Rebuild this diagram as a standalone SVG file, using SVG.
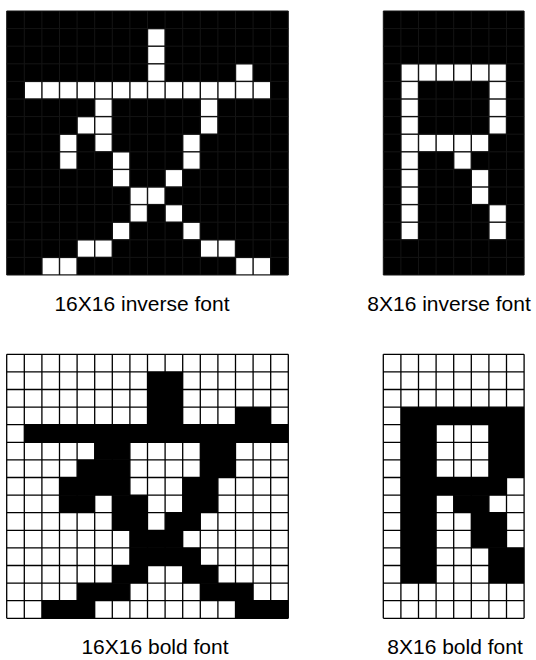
<svg xmlns="http://www.w3.org/2000/svg" width="536" height="660" viewBox="0 0 536 660">
<style>
.bg{fill:#fff}
.inv{fill:#000}
.w{fill:#fff}
.b{fill:#000}
.grid{fill:none;stroke:#000;stroke-width:1.3}
.invgrid{fill:none;stroke:#141414;stroke-width:1}
.lbl{font-family:"Liberation Sans",Arial,sans-serif;font-size:21px;fill:#000;text-anchor:middle}
</style>
<rect class="bg" x="0" y="0" width="536" height="660"/>
<defs>
<rect id="c" class="w" width="16.2" height="16.2"/>
<path id="g16" d="M0 0V264M17.6 0V264M35.2 0V264M52.8 0V264M70.4 0V264M88 0V264M105.6 0V264M123.2 0V264M140.8 0V264M158.4 0V264M176 0V264M193.6 0V264M211.2 0V264M228.8 0V264M246.4 0V264M264 0V264M281.6 0V264M0 0H281.6M0 17.6H281.6M0 35.2H281.6M0 52.8H281.6M0 70.4H281.6M0 88H281.6M0 105.6H281.6M0 123.2H281.6M0 140.8H281.6M0 158.4H281.6M0 176H281.6M0 193.6H281.6M0 211.2H281.6M0 228.8H281.6M0 246.4H281.6M0 264H281.6"/>
<path id="g8" d="M0 0V264M17.6 0V264M35.2 0V264M52.8 0V264M70.4 0V264M88 0V264M105.6 0V264M123.2 0V264M140.8 0V264M0 0H140.8M0 17.6H140.8M0 35.2H140.8M0 52.8H140.8M0 70.4H140.8M0 88H140.8M0 105.6H140.8M0 123.2H140.8M0 140.8H140.8M0 158.4H140.8M0 176H140.8M0 193.6H140.8M0 211.2H140.8M0 228.8H140.8M0 246.4H140.8M0 264H140.8"/>
</defs>

<g id="inverse16" transform="translate(6.7,11)">
<rect class="inv" width="281.6" height="264"/>
<use href="#g16" class="invgrid"/>
<g transform="translate(0.7,0.7)">
<use href="#c" x="140.8" y="17.6"/>
<use href="#c" x="140.8" y="35.2"/>
<use href="#c" x="140.8" y="52.8"/><use href="#c" x="228.8" y="52.8"/>
<use href="#c" x="17.6" y="70.4"/><use href="#c" x="35.2" y="70.4"/><use href="#c" x="52.8" y="70.4"/><use href="#c" x="70.4" y="70.4"/><use href="#c" x="88" y="70.4"/><use href="#c" x="105.6" y="70.4"/><use href="#c" x="123.2" y="70.4"/><use href="#c" x="140.8" y="70.4"/><use href="#c" x="158.4" y="70.4"/><use href="#c" x="176" y="70.4"/><use href="#c" x="193.6" y="70.4"/><use href="#c" x="211.2" y="70.4"/><use href="#c" x="228.8" y="70.4"/><use href="#c" x="246.4" y="70.4"/>
<use href="#c" x="88" y="88"/><use href="#c" x="193.6" y="88"/>
<use href="#c" x="70.4" y="105.6"/><use href="#c" x="88" y="105.6"/><use href="#c" x="193.6" y="105.6"/>
<use href="#c" x="52.8" y="123.2"/><use href="#c" x="88" y="123.2"/><use href="#c" x="176" y="123.2"/>
<use href="#c" x="52.8" y="140.8"/><use href="#c" x="105.6" y="140.8"/><use href="#c" x="176" y="140.8"/>
<use href="#c" x="105.6" y="158.4"/><use href="#c" x="158.4" y="158.4"/>
<use href="#c" x="123.2" y="176"/><use href="#c" x="140.8" y="176"/>
<use href="#c" x="123.2" y="193.6"/><use href="#c" x="158.4" y="193.6"/>
<use href="#c" x="105.6" y="211.2"/><use href="#c" x="176" y="211.2"/>
<use href="#c" x="70.4" y="228.8"/><use href="#c" x="88" y="228.8"/><use href="#c" x="193.6" y="228.8"/><use href="#c" x="211.2" y="228.8"/>
<use href="#c" x="35.2" y="246.4"/><use href="#c" x="52.8" y="246.4"/><use href="#c" x="228.8" y="246.4"/><use href="#c" x="246.4" y="246.4"/>
</g>
</g>

<g id="inverse8" transform="translate(383.3,11)">
<rect class="inv" width="140.8" height="264"/>
<use href="#g8" class="invgrid"/>
<g transform="translate(0.7,0.7)">
<use href="#c" x="17.6" y="52.8"/><use href="#c" x="35.2" y="52.8"/><use href="#c" x="52.8" y="52.8"/><use href="#c" x="70.4" y="52.8"/><use href="#c" x="88" y="52.8"/><use href="#c" x="105.6" y="52.8"/>
<use href="#c" x="17.6" y="70.4"/><use href="#c" x="105.6" y="70.4"/>
<use href="#c" x="17.6" y="88"/><use href="#c" x="105.6" y="88"/>
<use href="#c" x="17.6" y="105.6"/><use href="#c" x="105.6" y="105.6"/>
<use href="#c" x="17.6" y="123.2"/><use href="#c" x="35.2" y="123.2"/><use href="#c" x="52.8" y="123.2"/><use href="#c" x="70.4" y="123.2"/><use href="#c" x="88" y="123.2"/>
<use href="#c" x="17.6" y="140.8"/><use href="#c" x="70.4" y="140.8"/>
<use href="#c" x="17.6" y="158.4"/><use href="#c" x="88" y="158.4"/>
<use href="#c" x="17.6" y="176"/><use href="#c" x="88" y="176"/>
<use href="#c" x="17.6" y="193.6"/><use href="#c" x="105.6" y="193.6"/>
<use href="#c" x="17.6" y="211.2"/><use href="#c" x="105.6" y="211.2"/>
</g>
</g>

<g id="bold16" transform="translate(6.7,354.3)">
<rect class="w" width="281.6" height="264"/>
<rect class="b" x="140.8" y="17.6" width="35.2" height="52.8"/>
<rect class="b" x="228.8" y="52.8" width="35.2" height="17.6"/>
<rect class="b" x="17.6" y="70.4" width="264" height="17.6"/>
<rect class="b" x="88" y="88" width="35.2" height="17.6"/><rect class="b" x="193.6" y="88" width="35.2" height="35.2"/>
<rect class="b" x="70.4" y="105.6" width="52.8" height="17.6"/>
<rect class="b" x="52.8" y="123.2" width="70.4" height="17.6"/><rect class="b" x="176" y="123.2" width="35.2" height="35.2"/>
<rect class="b" x="52.8" y="140.8" width="35.2" height="17.6"/><rect class="b" x="105.6" y="140.8" width="35.2" height="17.6"/>
<rect class="b" x="105.6" y="158.4" width="35.2" height="17.6"/><rect class="b" x="158.4" y="158.4" width="35.2" height="17.6"/>
<rect class="b" x="123.2" y="176" width="52.8" height="17.6"/>
<rect class="b" x="123.2" y="193.6" width="70.4" height="17.6"/>
<rect class="b" x="105.6" y="211.2" width="35.2" height="17.6"/><rect class="b" x="176" y="211.2" width="35.2" height="17.6"/>
<rect class="b" x="70.4" y="228.8" width="52.8" height="17.6"/><rect class="b" x="193.6" y="228.8" width="52.8" height="17.6"/>
<rect class="b" x="35.2" y="246.4" width="52.8" height="17.6"/><rect class="b" x="228.8" y="246.4" width="52.8" height="17.6"/>
<use href="#g16" class="grid"/>
</g>

<g id="bold8" transform="translate(383.3,354.3)">
<rect class="w" width="140.8" height="264"/>
<rect class="b" x="17.6" y="52.8" width="123.2" height="17.6"/>
<rect class="b" x="17.6" y="70.4" width="35.2" height="158.4"/>
<rect class="b" x="105.6" y="70.4" width="35.2" height="52.8"/>
<rect class="b" x="17.6" y="123.2" width="105.6" height="17.6"/>
<rect class="b" x="70.4" y="140.8" width="35.2" height="17.6"/>
<rect class="b" x="88" y="158.4" width="35.2" height="35.2"/>
<rect class="b" x="105.6" y="193.6" width="35.2" height="35.2"/>
<use href="#g8" class="grid"/>
</g>

<g id="labels">
<text class="lbl" x="142" y="311">16X16 inverse font</text>
<text class="lbl" x="449" y="311">8X16 inverse font</text>
<text class="lbl" x="155" y="654">16X16 bold font</text>
<text class="lbl" x="455" y="654">8X16 bold font</text>
</g>
</svg>
